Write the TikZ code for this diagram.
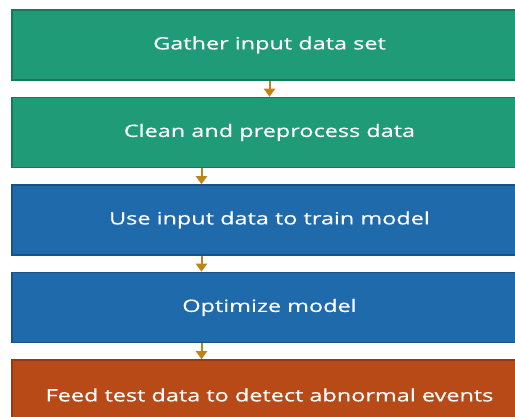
\documentclass[tikz,border=0pt]{standalone}
\usepackage{fontspec}
\setmainfont{Open Sans}
\newfontfamily\fcfont[FakeStretch=1.38,FakeBold=0.4]{Open Sans}
\usepackage{xcolor}
\usetikzlibrary{positioning,arrows.meta}
\definecolor{fcgreen}{HTML}{1F9B78}
\definecolor{fcgreenline}{HTML}{157A5C}
\definecolor{fcblue}{HTML}{1F6AAA}
\definecolor{fcblueline}{HTML}{17528A}
\definecolor{fcorange}{HTML}{B84A17}
\definecolor{fcorangeline}{HTML}{933A12}
\definecolor{fcarrow}{HTML}{BF8418}
\tikzset{
  fc box/.style={
    rectangle,
    minimum height=70pt,
    minimum width=515pt,
    line width=1.5pt,
    text=white,
    font=\fcfont\fontsize{17}{20}\selectfont,
    inner sep=0pt,
  },
  fc green/.style={fc box, fill=fcgreen, draw=fcgreenline},
  fc blue/.style={fc box, fill=fcblue, draw=fcblueline},
  fc orange/.style={fc box, fill=fcorange, draw=fcorangeline},
  fc arrow/.style={-{Triangle[length=8pt,width=11pt]}, line width=2pt, draw=fcarrow},
}

\begin{document}
\begin{tikzpicture}[node distance=16pt]
  \useasboundingbox (0pt,0pt) rectangle (515pt,-417pt);
  \clip (0pt,0pt) rectangle (515pt,-417pt);
  \node[fc green] (gather) at (269.5pt,-45pt) {Gather input data set};
  \node[fc green,below=of gather] (clean) {Clean and preprocess data};
  \node[fc blue,below=of clean] (train) {Use input data to train model};
  \node[fc blue,below=of train] (optim) {Optimize model};
  \node[fc orange,below=of optim] (feed) {Feed test data to detect abnormal events};

  \draw[fc arrow] (gather.south) -- (clean.north);
  \draw[fc arrow] ([xshift=-68pt]clean.south) -- ([xshift=-68pt]train.north);
  \draw[fc arrow] ([xshift=-68pt]train.south) -- ([xshift=-68pt]optim.north);
  \draw[fc arrow] ([xshift=-68pt]optim.south) -- ([xshift=-68pt]feed.north);
\end{tikzpicture}
\end{document}
